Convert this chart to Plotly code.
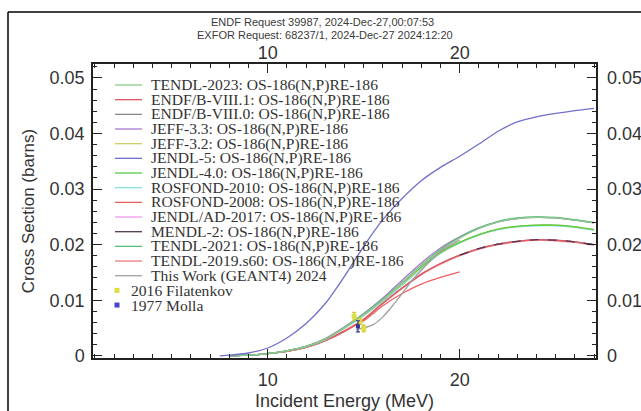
import plotly.graph_objects as go

# ---------------- data ----------------
TITLE_1 = "ENDF Request 39987, 2024-Dec-27,00:07:53"
TITLE_2 = "EXFOR Request: 68237/1, 2024-Dec-27 2024:12:20"

E_GRID = [8, 9, 10, 11, 12, 13, 14, 15, 16, 17, 18, 19, 20, 21, 22, 23, 24, 25, 26, 27]

tendl2023 = [0.0, 0.0001, 0.0004, 0.0009, 0.0017, 0.0030, 0.0051, 0.0074, 0.0101, 0.0131, 0.0162, 0.0190,
             0.0212, 0.0229, 0.0241, 0.0247, 0.0249, 0.0248, 0.0244, 0.0239]
tendl2021 = [0.0, 0.0001, 0.0004, 0.0009, 0.0017, 0.0030, 0.0051, 0.0075, 0.0102, 0.0132, 0.0163, 0.0191,
             0.0213, 0.0230, 0.0242, 0.0248, 0.0250, 0.0249, 0.0245, 0.0240]
jeff33 = [0.0, 0.0001, 0.0004, 0.0009, 0.0017, 0.0031, 0.0052, 0.0076, 0.0104, 0.0136, 0.0167, 0.0194,
          0.0214, 0.0230, 0.0241, 0.0247, 0.0249, 0.0248, 0.0244, 0.0239]
jendl_ad2017 = [0.0, 0.0001, 0.0004, 0.0009, 0.0017, 0.0030, 0.0051, 0.0074, 0.0101, 0.0131, 0.0162, 0.0190,
                0.0212, 0.0229, 0.0241, 0.0247, 0.0249, 0.0248, 0.0244, 0.0239]
jendl40 = [0.0, 0.0001, 0.0004, 0.0009, 0.0017, 0.0030, 0.0051, 0.0074, 0.0101, 0.0130, 0.0160, 0.0186,
           0.0204, 0.0218, 0.0228, 0.0233, 0.0235, 0.0235, 0.0232, 0.0227]
jeff32 = [0.0, 0.0001, 0.0004, 0.0009, 0.0017, 0.0030, 0.0051, 0.0074, 0.0100, 0.0129, 0.0159, 0.0185,
          0.0204, 0.0218, 0.0228, 0.0233, 0.0235, 0.0235, 0.0232, 0.0227]
rosfond2010 = [0.0, 0.0001, 0.0004, 0.0009, 0.0016, 0.0029, 0.0049, 0.0072, 0.0098, 0.0127, 0.0157, 0.0184,
               0.0203, 0.0217, 0.0227, 0.0232, 0.0234, 0.0234, 0.0231, 0.0226]
endfb81 = [0.0, 0.0001, 0.0004, 0.0008, 0.0015, 0.0027, 0.0044, 0.0065, 0.0095, 0.0122, 0.0147, 0.0166,
           0.0181, 0.0193, 0.0201, 0.0206, 0.0209, 0.0208, 0.0205, 0.0200]
endfb80 = [0.0, 0.0001, 0.0004, 0.0008, 0.0015, 0.0027, 0.0044, 0.0065, 0.0095, 0.0122, 0.0147, 0.0166,
           0.0181, 0.0193, 0.0201, 0.0206, 0.0209, 0.0208, 0.0205, 0.0200]
tendl2019 = [0.0, 0.0001, 0.0004, 0.0008, 0.0015, 0.0027, 0.0045, 0.0066, 0.0094, 0.0121, 0.0146, 0.0165,
             0.0180, 0.0192, 0.0200, 0.0205, 0.0208, 0.0207, 0.0204, 0.0199]

E_MENDL2 = [20, 21, 22, 23, 24, 25, 26, 27]
mendl2 = [0.0181, 0.0193, 0.0201, 0.0206, 0.0209, 0.0208, 0.0205, 0.0200]

E_ROSFOND2008 = [8, 9, 10, 11, 12, 13, 14, 15, 16, 17, 18, 19, 20]
rosfond2008 = [0.0, 0.0001, 0.0004, 0.0009, 0.0016, 0.0028, 0.0045, 0.0063, 0.0090, 0.0112, 0.0129, 0.0141, 0.0151]

E_JENDL5 = [7.5, 8, 9, 10, 11, 12, 13, 14, 15, 16, 17, 18, 19, 20, 21, 22, 23, 24, 25, 26, 27]
jendl5 = [0.0, 0.0001, 0.0005, 0.0014, 0.0032, 0.0058, 0.0094, 0.0143, 0.0197, 0.0245, 0.0283, 0.0315,
          0.0339, 0.0359, 0.0381, 0.0404, 0.0421, 0.0430, 0.0436, 0.0441, 0.0445]

E_GEANT4 = [14.6, 15.0, 15.5, 16.0, 16.5, 17.0, 17.5, 18.0, 18.5, 19.0, 20.0]
geant4 = [0.0047, 0.0050, 0.0056, 0.0070, 0.0090, 0.0112, 0.0135, 0.0154, 0.0172, 0.0188, 0.0208]

E_FILATENKOV = [14.5, 14.8, 15.0]
filatenkov = [0.0071, 0.0062, 0.0049]
filatenkov_err = [0.0007, 0.0006, 0.0006]

E_MOLLA = [14.7]
molla = [0.0053]
molla_err = [0.0010]

# name, x, y, colour, dash  (drawing order = list order)
SERIES = [
    ("ENDF/B-VIII.0: OS-186(N,P)RE-186", E_GRID, endfb80, "#8a8a8a", "solid"),
    ("TENDL-2019.s60: OS-186(N,P)RE-186", E_GRID, tendl2019, "#ee7a7a", "solid"),
    ("ENDF/B-VIII.1: OS-186(N,P)RE-186", E_GRID, endfb81, "#dd5a66", "solid"),
    ("MENDL-2: OS-186(N,P)RE-186", E_MENDL2, mendl2, "#553355", "dash"),
    ("ROSFOND-2008: OS-186(N,P)RE-186", E_ROSFOND2008, rosfond2008, "#ee6060", "solid"),
    ("ROSFOND-2010: OS-186(N,P)RE-186", E_GRID, rosfond2010, "#88dddd", "solid"),
    ("JEFF-3.2: OS-186(N,P)RE-186", E_GRID, jeff32, "#cccc66", "solid"),
    ("JENDL-4.0: OS-186(N,P)RE-186", E_GRID, jendl40, "#55cc44", "solid"),
    ("JENDL/AD-2017: OS-186(N,P)RE-186", E_GRID, jendl_ad2017, "#ee99ee", "solid"),
    ("JEFF-3.3: OS-186(N,P)RE-186", E_GRID, jeff33, "#aa77cc", "solid"),
    ("TENDL-2021: OS-186(N,P)RE-186", E_GRID, tendl2021, "#55bb77", "solid"),
    ("TENDL-2023: OS-186(N,P)RE-186", E_GRID, tendl2023, "#88cc88", "solid"),
    ("JENDL-5: OS-186(N,P)RE-186", E_JENDL5, jendl5, "#7070cc", "solid"),
    ("This Work (GEANT4) 2024", E_GEANT4, geant4, "#a0a0a0", "solid"),
]

LEGEND_ORDER = [
    "TENDL-2023: OS-186(N,P)RE-186",
    "ENDF/B-VIII.1: OS-186(N,P)RE-186",
    "ENDF/B-VIII.0: OS-186(N,P)RE-186",
    "JEFF-3.3: OS-186(N,P)RE-186",
    "JEFF-3.2: OS-186(N,P)RE-186",
    "JENDL-5: OS-186(N,P)RE-186",
    "JENDL-4.0: OS-186(N,P)RE-186",
    "ROSFOND-2010: OS-186(N,P)RE-186",
    "ROSFOND-2008: OS-186(N,P)RE-186",
    "JENDL/AD-2017: OS-186(N,P)RE-186",
    "MENDL-2: OS-186(N,P)RE-186",
    "TENDL-2021: OS-186(N,P)RE-186",
    "TENDL-2019.s60: OS-186(N,P)RE-186",
    "This Work (GEANT4) 2024",
]
MARKER_LEGEND = [("2016 Filatenkov", "#dddd44"), ("1977 Molla", "#4444cc")]

X_RANGE = [0.9, 27.1]
Y_RANGE = [-0.0004, 0.0525]
X_TICKS = [10, 20]
Y_TICKS = [0, 0.01, 0.02, 0.03, 0.04, 0.05]
Y_TICKTEXT = ["0", "0.01", "0.02", "0.03", "0.04", "0.05"]

# ---------------- figure ----------------
W, H = 641, 411
ML, MR, MT, MB = 93, 45, 64, 53
PW, PH = W - ML - MR, H - MT - MB


def px(xp):
    return (xp - ML) / PW


def py(yp):
    return (H - MB - yp) / PH


fig = go.Figure()
colors = {}
for name, xs, ys, col, dash in SERIES:
    colors[name] = col
    fig.add_trace(go.Scatter(x=xs, y=ys, mode="lines", name=name, showlegend=False,
                             line=dict(color=col, width=1.3, dash=dash, shape="spline", smoothing=0.6)))

fig.add_trace(go.Scatter(x=E_FILATENKOV, y=filatenkov, mode="markers", name="2016 Filatenkov",
                         showlegend=False,
                         marker=dict(symbol="square", size=5, color="#dddd44"),
                         error_y=dict(type="data", array=filatenkov_err, color="#cccc33", width=2, thickness=1.2)))
fig.add_trace(go.Scatter(x=E_MOLLA, y=molla, mode="markers", name="1977 Molla", showlegend=False,
                         marker=dict(symbol="square", size=4, color="#333399"),
                         error_y=dict(type="data", array=molla_err, color="#333399", width=2, thickness=1.2)))

# helper trace for mirrored axes with labels
fig.add_trace(go.Scatter(x=[X_RANGE[0]], y=[Y_RANGE[0]], xaxis="x2", yaxis="y2", mode="markers",
                         marker=dict(opacity=0), hoverinfo="skip", showlegend=False))

TICKFONT = dict(family="Liberation Sans, Arial, sans-serif", size=18, color="#333333")

fig.update_layout(
    width=W, height=H,
    margin=dict(l=ML, r=MR, t=MT, b=MB, autoexpand=False),
    paper_bgcolor="white", plot_bgcolor="white",
    showlegend=False,
    xaxis=dict(range=X_RANGE, tickvals=X_TICKS, ticks="inside", ticklen=9, tickwidth=1.2, automargin=False,
               tickcolor="#222", showline=True, linecolor="#222", linewidth=1.5, mirror="ticks",
               showgrid=False, zeroline=False, tickfont=TICKFONT, ticklabelstandoff=5,
               minor=dict(ticks="inside", dtick=1, tick0=0, ticklen=4, tickcolor="#222", showgrid=False),
               title=dict(text="Incident Energy (MeV)", font=dict(family="Liberation Sans, Arial", size=18,
                                                                  color="#333333"), standoff=5)),
    yaxis=dict(range=Y_RANGE, tickvals=Y_TICKS, ticktext=Y_TICKTEXT, ticks="inside", ticklen=9,
               tickwidth=1.2, tickcolor="#222", showline=True, linecolor="#222", linewidth=1.5,
               automargin=False,
               mirror="ticks", showgrid=False, zeroline=False, tickfont=TICKFONT, ticklabelstandoff=3,
               minor=dict(ticks="inside", dtick=0.002, tick0=0, ticklen=4, tickcolor="#222", showgrid=False),
               title=dict(text="Cross Section (barns)", font=dict(family="Liberation Sans, Arial", size=17,
                                                                  color="#333333"), standoff=11)),
    xaxis2=dict(range=X_RANGE, overlaying="x", side="top", tickvals=X_TICKS, ticks="", showline=False,
                automargin=False,
                showgrid=False, zeroline=False, tickfont=TICKFONT, ticklabelstandoff=0),
    yaxis2=dict(range=Y_RANGE, overlaying="y", side="right", tickvals=Y_TICKS, ticktext=Y_TICKTEXT,
                automargin=False,
                ticks="", showline=False, showgrid=False, zeroline=False, tickfont=TICKFONT,
                ticklabelstandoff=10),
)

# titles
TITLE_FONT = dict(family="Liberation Sans Narrow, Arial Narrow, Liberation Sans", size=11, color="#3a3a3a")
fig.add_annotation(text=TITLE_1, xref="paper", yref="paper", x=px(322), y=py(22), showarrow=False,
                   xanchor="center", yanchor="middle", font=TITLE_FONT)
fig.add_annotation(text=TITLE_2, xref="paper", yref="paper", x=px(325), y=py(35), showarrow=False,
                   xanchor="center", yanchor="middle", font=TITLE_FONT)

# outer frame
fig.add_shape(type="line", xref="paper", yref="paper", x0=px(8), x1=px(8), y0=py(12), y1=py(420),
              line=dict(color="black", width=1.5), layer="above")
fig.add_shape(type="line", xref="paper", yref="paper", x0=px(8), x1=px(660), y0=py(12), y1=py(12),
              line=dict(color="black", width=1.5), layer="above")

# custom legend
LEG_FONT = dict(family="Liberation Serif, Times New Roman, serif", size=15.6, color="#333333")
row0, dy = 85, 14.67
for i, name in enumerate(LEGEND_ORDER):
    yy = row0 + i * dy
    fig.add_shape(type="line", xref="paper", yref="paper", x0=px(115), x1=px(142), y0=py(yy), y1=py(yy),
                  line=dict(color=colors[name], width=1.3))
    fig.add_annotation(text=name, xref="paper", yref="paper", x=px(149), y=py(yy), showarrow=False,
                       xanchor="left", yanchor="middle", font=LEG_FONT)
for j, (name, col) in enumerate(MARKER_LEGEND):
    yy = row0 + (len(LEGEND_ORDER) + j) * dy
    fig.add_shape(type="rect", xref="paper", yref="paper", x0=px(114.5), x1=px(119.5),
                  y0=py(yy + 2.5), y1=py(yy - 2.5), line=dict(width=0), fillcolor=col)
    fig.add_annotation(text=name, xref="paper", yref="paper", x=px(129), y=py(yy), showarrow=False,
                       xanchor="left", yanchor="middle", font=LEG_FONT)

fig.write_html("out.html", config={"displayModeBar": False},
               post_script="document.body.style.margin='0px';")
